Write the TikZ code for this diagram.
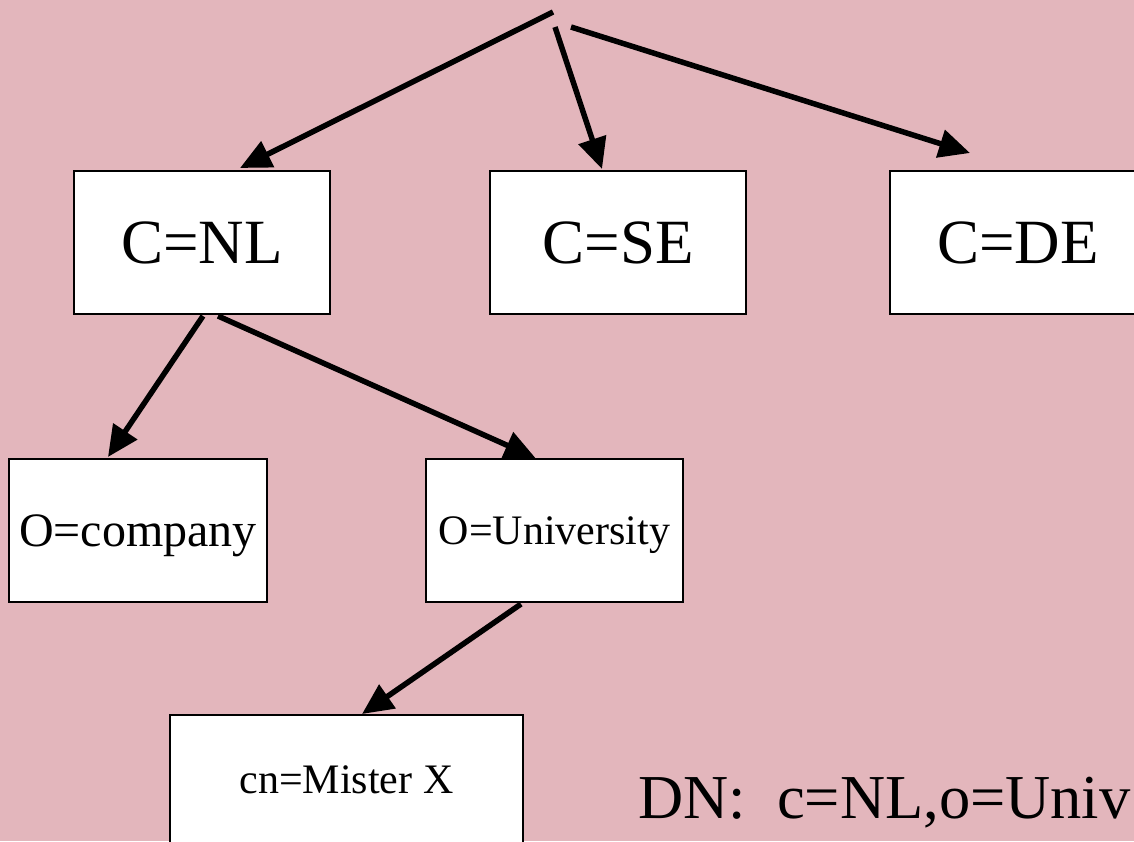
\documentclass[tikz,border=0pt]{standalone}
\usepackage{fontspec}
\setmainfont{Liberation Serif}
\usetikzlibrary{arrows.meta,calc}
\definecolor{bgpink}{RGB}{227,182,188}
\tikzset{
  dnbox/.style={draw=black, line width=2pt, fill=white, rectangle, inner sep=0pt,
    minimum width=256pt, minimum height=143pt, text depth=0pt},
  link/.style={line width=5.5pt, -{Triangle[length=31pt,width=28pt]}},
  big/.style={font=\fontsize{63}{70}\selectfont},
  mid/.style={font=\fontsize{48}{54}\selectfont},
  small/.style={font=\fontsize{42}{48}\selectfont}
}
\begin{document}
\begin{tikzpicture}[x=1pt,y=-1pt]
\fill[bgpink] (0,0) rectangle (1134,841);
\useasboundingbox (0,0) rectangle (1134,841);
\begin{scope}
\clip (0,0) rectangle (1134,841);
\coordinate (r1) at (553,12);
\coordinate (r2) at (555,27);
\coordinate (r3) at (571,27);
\node[dnbox, big] (nl) at (202,242.5) {C=NL};
\node[dnbox, big] (se) at (618,242.5) {C=SE};
\node[dnbox, big] (de) at (1018,242.5) {C=DE};
\node[dnbox, mid, minimum width=258pt] (co) at (138,530.5) {O=company};
\node[dnbox, small, minimum width=257pt] (un) at (554.5,530.5) {O=University};
\node[dnbox, small, minimum width=353pt, minimum height=130pt] (mx) at (346.5,780) {cn=Mister X};
\draw[link] (r1) -- ($(nl.north)+(38,-2)$);
\draw[link] (r2) -- ($(se.north)+(-16,-1)$);
\draw[link] (r3) -- ($(de.north)+(-48,-17)$);
\draw[link] ($(nl.south)+(1,1)$) -- ($(co.north)+(-30,-1)$);
\draw[link] ($(nl.south)+(16,1)$) -- ($(un.north)+(-19,0)$);
\draw[link] ($(un.south)+(-33.5,1)$) -- ($(mx.north)+(15.5,0)$);
\node[anchor=base west, inner sep=0pt, font=\fontsize{62.5}{70}\selectfont] (dn) at (638,818) {DN:\ \ c=NL,o=Univ};
\end{scope}
\end{tikzpicture}
\end{document}
